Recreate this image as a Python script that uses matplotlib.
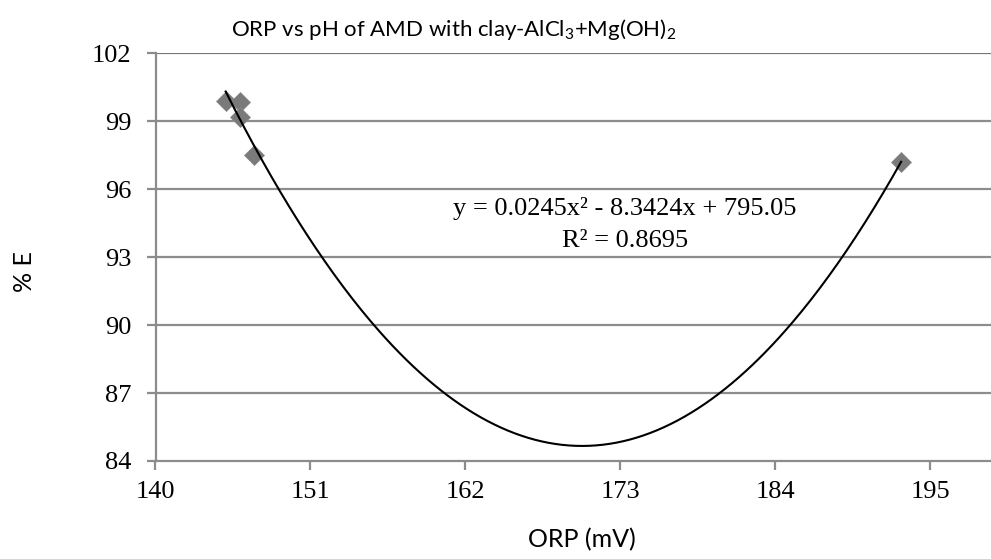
import numpy as np
import matplotlib
matplotlib.use("Agg")
import matplotlib.pyplot as plt

# Data
orp_mv = [144.98, 145.97, 146.02, 146.96, 192.92]
pct_e = [99.89, 99.84, 99.20, 97.51, 97.21]

x_ticks = [140, 151, 162, 173, 184, 195]
y_ticks = [84, 87, 90, 93, 96, 99, 102]

title = r"ORP vs pH of AMD with clay-AlCl$_3$+Mg(OH)$_2$"
x_label = "ORP (mV)"
y_label = "% E"
eq_text = "y = 0.0245x\u00b2 - 8.3424x + 795.05"
r2_text = "R\u00b2 = 0.8695"

plt.rcParams["mathtext.default"] = "regular"
sans = ["Lato", "DejaVu Sans"]
serif = ["Liberation Serif", "DejaVu Serif"]

fig = plt.figure(figsize=(9.91, 5.59), dpi=100)
W, H = 991, 559
ax = fig.add_axes([155.5 / W, 1 - 461 / H, 1 - 155.5 / W, (461 - 53.3) / H])

grid_c = "#8c8c8c"
for yv in y_ticks[1:]:
    ax.axhline(yv, color=grid_c if yv != 102 else "#6b7b80", lw=1.6, zorder=1)

ax.scatter(orp_mv, pct_e, marker="D", s=10.2 ** 2, color="#7a7a7a",
           edgecolors="#8a8a8a", linewidths=0.5, zorder=3)

coef = np.polyfit(orp_mv, pct_e, 2)
xs = np.linspace(min(orp_mv), max(orp_mv), 300)
ax.plot(xs, np.polyval(coef, xs), color="black", lw=1.5, zorder=4)

ax.set_xlim(140, 199.3)
ax.set_ylim(84, 102)
ax.set_xticks(x_ticks)
ax.set_yticks(y_ticks)
for s in ["top", "right"]:
    ax.spines[s].set_visible(False)
for s in ["left", "bottom"]:
    ax.spines[s].set_color(grid_c)
    ax.spines[s].set_linewidth(1.6)
ax.tick_params(axis="both", direction="out", length=6.5, width=1.6, color=grid_c,
               labelsize=19)
ax.tick_params(axis="y", pad=11)
ax.tick_params(axis="x", pad=8)
for lab in ax.get_xticklabels() + ax.get_yticklabels():
    lab.set_family(serif)

def ax_pos(px, py):
    return (px - 155.5) / (W - 155.5), 1 - (py - 53.3) / (461 - 53.3)

ax.text(*ax_pos(625, 215.5), eq_text, transform=ax.transAxes, ha="center",
        va="baseline", fontsize=19, family=serif)
ax.text(*ax_pos(625, 247), r2_text, transform=ax.transAxes, ha="center",
        va="baseline", fontsize=19, family=serif)

fig.text(454 / W, 1 - 36.5 / H, title, ha="center", va="baseline", fontsize=16, family=sans)
fig.text(581.5 / W, 1 - 540 / H, x_label, ha="center", va="center", fontsize=18, family=sans)
fig.text(24 / W, 1 - 272 / H, y_label, ha="center", va="center", rotation=90,
         fontsize=18, family=sans)

fig.savefig("out.png", dpi=100)
